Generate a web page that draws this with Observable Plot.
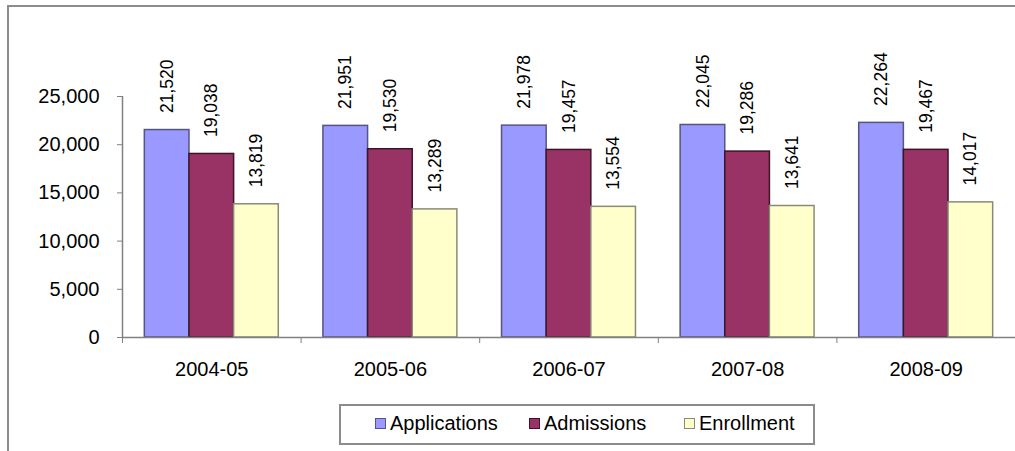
<!DOCTYPE html>
<html>
<head>
<meta charset="utf-8">
<script src="https://cdn.jsdelivr.net/npm/d3@7"></script>
<script src="https://cdn.jsdelivr.net/npm/@observablehq/plot@0.6"></script>
<style>
  html, body { margin: 0; padding: 0; background: #fff; }
  body { width: 1015px; height: 451px; position: relative; overflow: hidden; font-family: "Liberation Sans", Arial, sans-serif; }
  #frame { position: absolute; left: 7px; top: 5px; width: 1020px; height: 460px; border-top: 2px solid #8c8c8c; border-left: 2px solid #8c8c8c; }
  #chart { position: absolute; left: 0; top: 0; }
  #legend { position: absolute; left: 339px; top: 404px; width: 472px; height: 37px; border: 2px solid #8c8c8c; background: #fff; font-size: 20px; }
  .item { position: absolute; top: 6px; display: flex; align-items: center; white-space: nowrap; }
  .sw { width: 9px; height: 9px; border: 1.5px solid #555; margin-right: 4px; }
</style>
</head>
<body>
<div id="frame"></div>
<div id="chart"></div>
<div id="legend"></div>
<script>
const years = ["2004-05", "2005-06", "2006-07", "2007-08", "2008-09"];
const series = ["Applications", "Admissions", "Enrollment"];
const applications = [21520, 21951, 21978, 22045, 22264];
const admissions = [19038, 19530, 19457, 19286, 19467];
const enrollment = [13819, 13289, 13554, 13641, 14017];
const yTicks = [0, 5000, 10000, 15000, 20000, 25000];

const fills = ["#9999ff", "#993366", "#ffffcc"];
const strokes = ["#55557f", "#3d1528", "#8a8a78"];
const values = [applications, admissions, enrollment];

const rows = [];
years.forEach((year, i) => {
  series.forEach((s, k) => {
    rows.push({year, i, series: s, k, value: values[k][i]});
  });
});

const groupWidth = 0.75;
const barW = groupWidth / series.length;
const x1 = d => d.i - groupWidth / 2 + barW * d.k;
const x2 = d => x1(d) + barW;
const xc = d => x1(d) + barW / 2;
const fmt = d3.format(",");

const chart = Plot.plot({
  width: 1015,
  height: 395,
  marginLeft: 122,
  marginRight: 0,
  marginTop: 96,
  marginBottom: 58,
  style: {fontFamily: "'Liberation Sans', Arial, sans-serif", background: "transparent"},
  x: {domain: [-0.5, years.length - 0.5], axis: null},
  y: {domain: [0, 25000], axis: null},
  marks: [
    Plot.rectY(rows, {x1, x2, y1: 0, y2: "value", fill: d => fills[d.k], stroke: d => strokes[d.k], strokeWidth: 1.5}),
    Plot.ruleY([0], {stroke: "#808080", strokeWidth: 1.5}),
    Plot.ruleX([-0.5], {y1: 0, y2: 25000, stroke: "#808080", strokeWidth: 1.5}),
    Plot.axisY({ticks: yTicks, tickFormat: fmt, tickSize: 5, tickPadding: 18, fontSize: 20, stroke: "#808080", fill: "#000", label: null}),
    Plot.axisX({ticks: d3.range(-0.5, years.length, 1), tickFormat: () => "", tickSize: 6, stroke: "#808080", label: null}),
    Plot.axisX({ticks: d3.range(years.length), tickFormat: i => years[i], tickSize: 0, tickPadding: 24, fontSize: 20, fill: "#000", label: null}),
    Plot.text(rows, {x: xc, y: "value", text: d => fmt(d.value), rotate: -90, textAnchor: "start", lineAnchor: "middle", dy: -17, fontSize: 17.5, fill: "#000"})
  ]
});
document.getElementById("chart").appendChild(chart);

// legend
const legend = document.getElementById("legend");
const lefts = [34, 188, 343];
series.forEach((s, k) => {
  const it = document.createElement("div");
  it.className = "item";
  it.style.left = lefts[k] + "px";
  const sw = document.createElement("span");
  sw.className = "sw";
  sw.style.background = fills[k];
  sw.style.borderColor = strokes[k];
  const t = document.createElement("span");
  t.textContent = s;
  it.appendChild(sw);
  it.appendChild(t);
  legend.appendChild(it);
});
</script>
</body>
</html>
